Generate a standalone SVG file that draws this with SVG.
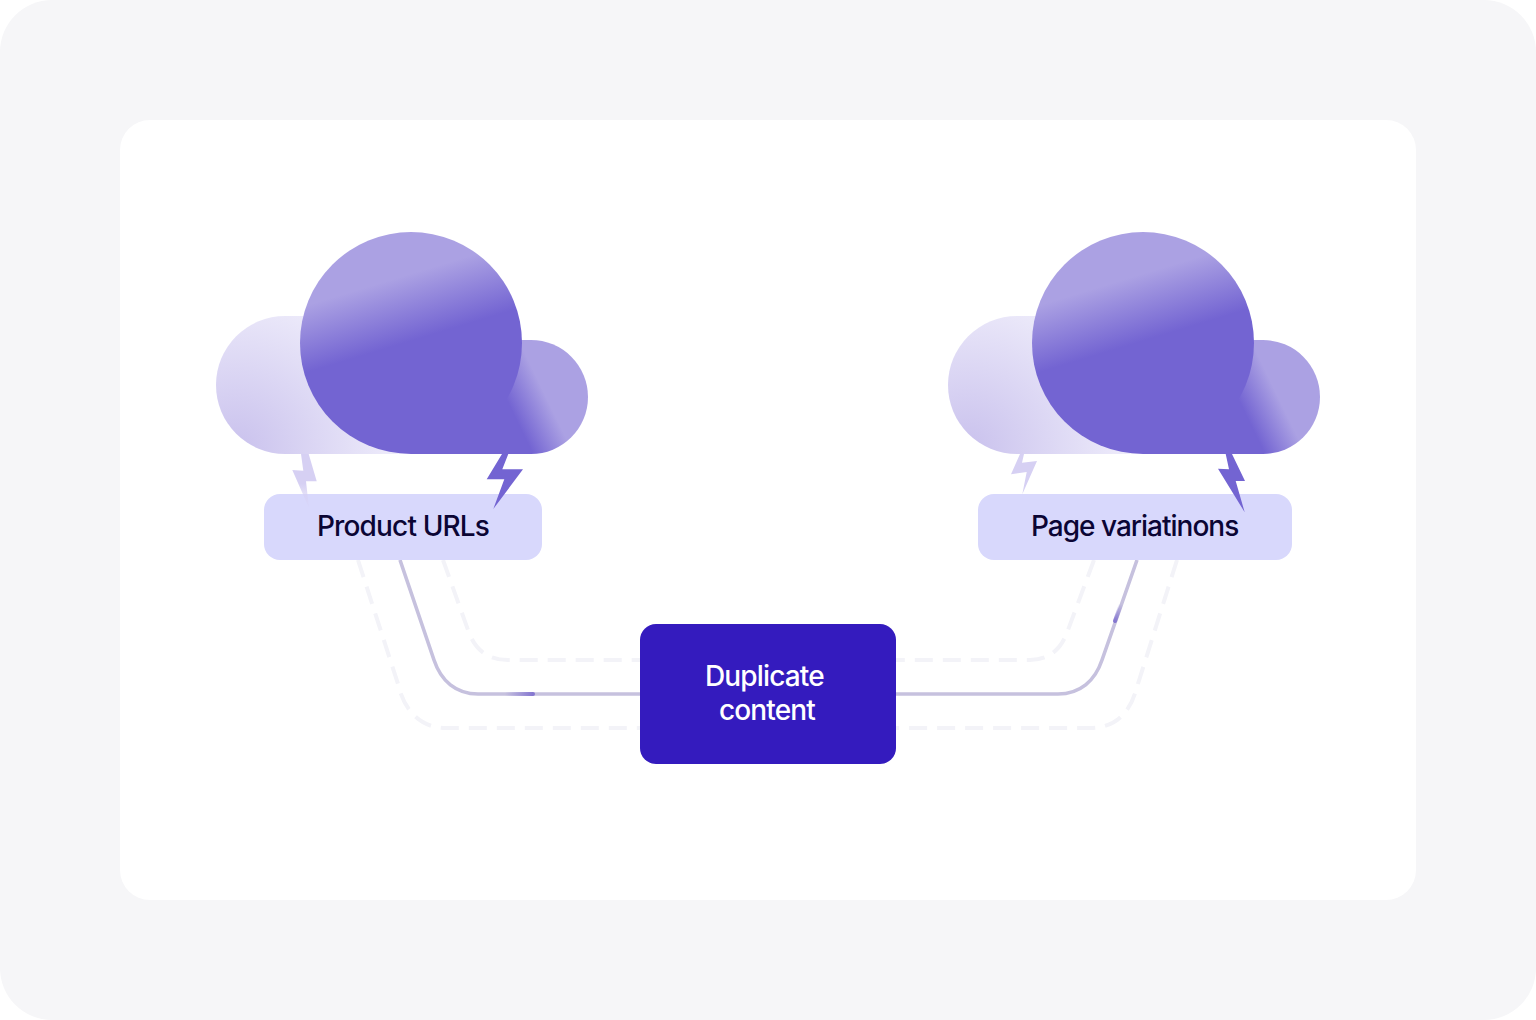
<svg xmlns="http://www.w3.org/2000/svg" width="1536" height="1020" viewBox="0 0 1536 1020">
<style>
.lbl{font-family:Inter,"Liberation Sans",sans-serif;font-size:28px;font-weight:500;letter-spacing:-0.85px;fill:#0b0534}
.wht{fill:#fff}
.solid{fill:none;stroke:#c6c1de;stroke-width:3.6}
.dash{fill:none;stroke:#f3f3f8;stroke-width:4;stroke-dasharray:18 10}
.chip{fill:#d8d8fc}
</style>
<defs>
<linearGradient id="big" gradientUnits="objectBoundingBox" x1="0.37" y1="0.17" x2="0.47" y2="0.5"><stop offset="0.16" stop-color="#aba1e3"/><stop offset="1" stop-color="#7364d2"/></linearGradient>
<radialGradient id="lobeL" gradientUnits="userSpaceOnUse" cx="235" cy="450" r="165"><stop offset="0" stop-color="#c9c1ed"/><stop offset="1" stop-color="#efedfb"/></radialGradient>
<radialGradient id="lobeL2" gradientUnits="userSpaceOnUse" cx="967" cy="450" r="165"><stop offset="0" stop-color="#c9c1ed"/><stop offset="1" stop-color="#efedfb"/></radialGradient>
<linearGradient id="lobeR" gradientUnits="userSpaceOnUse" x1="519" y1="425" x2="552" y2="409"><stop offset="0" stop-color="#7364d2"/><stop offset="1" stop-color="#aba1e3"/></linearGradient>
<linearGradient id="lobeR2" gradientUnits="userSpaceOnUse" x1="1251" y1="425" x2="1284" y2="409"><stop offset="0" stop-color="#7364d2"/><stop offset="1" stop-color="#aba1e3"/></linearGradient>
<linearGradient id="hlL" gradientUnits="userSpaceOnUse" x1="505" y1="694" x2="533" y2="694"><stop offset="0" stop-color="#8577d0" stop-opacity="0"/><stop offset="1" stop-color="#8577d0"/></linearGradient>
<linearGradient id="hlR" gradientUnits="userSpaceOnUse" x1="1121" y1="604" x2="1115" y2="621"><stop offset="0" stop-color="#8577d0" stop-opacity="0"/><stop offset="1" stop-color="#8577d0"/></linearGradient>
<linearGradient id="boltL" x1="0" y1="0" x2="0" y2="1"><stop offset="0.55" stop-color="#d6d0f3"/><stop offset="1" stop-color="#d6d0f3" stop-opacity="0.2"/></linearGradient>
</defs>
<rect width="1536" height="1020" fill="#fff"/>
<rect width="1536" height="1020" rx="52" fill="#f6f6f8"/>
<rect x="120" y="120" width="1296" height="780" rx="30" fill="#fff"/>
<g id="connectors">
<path class="dash" d="M358 560L398 684C404 710 420 728 446 728H640"/>
<path class="dash" d="M443 560L468 630C474 648 486 660 508 660H640"/>
<path class="solid" d="M400 560L434 660C441 681 456 694 478 694H640"/>
<path d="M505 694H533" fill="none" stroke="url(#hlL)" stroke-width="4" stroke-linecap="round"/>
<path class="dash" d="M1177 560L1136 690C1130 712 1116 728 1090 728H896"/>
<path class="dash" d="M1094 560L1068 630C1062 648 1050 660 1030 660H896"/>
<path class="solid" d="M1137 560L1102 660C1095 681 1080 694 1058 694H896"/>
<path d="M1121 604L1115 621" fill="none" stroke="url(#hlR)" stroke-width="4" stroke-linecap="round"/>
</g>
<g id="cloud-left">
<path d="M285 316A69 69 0 0 0 285 454H420V316Z" fill="url(#lobeL)"/>
<path d="M531 340A57 57 0 0 1 531 454H411V340Z" fill="url(#lobeR)"/>
<circle cx="411" cy="343" r="111" fill="url(#big)"/>
</g>
<g id="cloud-right">
<path d="M1017 316A69 69 0 0 0 1017 454H1152V316Z" fill="url(#lobeL2)"/>
<path d="M1263 340A57 57 0 0 1 1263 454H1143V340Z" fill="url(#lobeR2)"/>
<circle cx="1143" cy="343" r="111" fill="url(#big)"/>
</g>
<g id="node-product-urls">
<rect class="chip" x="264" y="494" width="278" height="66" rx="16"/>
<path fill="url(#boltL)" d="M301 454H308.700L316.700 481.300H306L309 508L292.300 470L303.300 470.700Z"/>
<path fill="#7364d2" d="M502 454H508.300L502.300 469.300H523L493.300 509L504.300 479.300H486.700Z"/>
<text class="lbl" x="317" y="536">Product URLs</text>
</g>
<g id="node-page-variations">
<rect class="chip" x="978" y="494" width="314" height="66" rx="16"/>
<path fill="#d6d0f3" d="M1020 454H1024L1022 462.700L1037 461L1022.300 494.300L1026.700 472L1011 474.300Z"/>
<path fill="#7364d2" d="M1225.700 454H1232L1245 481H1235.700L1244.700 512.300L1218 468.700L1229 469.300Z"/>
<text class="lbl" x="1031" y="536" style="letter-spacing:-1px">Page variatinons</text>
</g>
<g id="node-duplicate-content">
<rect x="640" y="624" width="256" height="140" rx="16" fill="#341bbe"/>
<text class="lbl wht" x="705" y="686">Duplicate</text>
<text class="lbl wht" x="719" y="720">content</text>
</g>
</svg>
